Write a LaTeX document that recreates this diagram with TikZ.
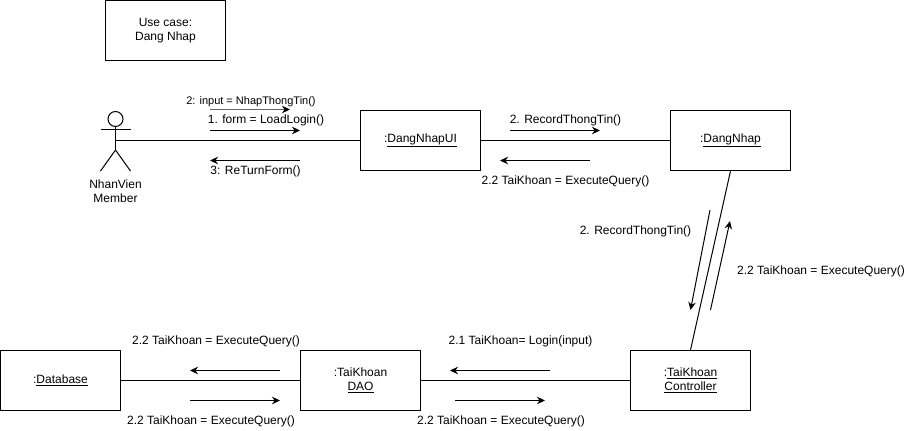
\documentclass[tikz,border=0pt]{standalone}
\usepackage{fontspec}
\setmainfont{Liberation Sans}
\usetikzlibrary{arrows.meta, positioning}
\tikzset{
  every picture/.style={font=\fontsize{12}{14}\selectfont, line width=1pt},
  obj/.style={draw=black, fill=white, align=center, minimum width=120pt, minimum height=60pt, inner sep=0pt, anchor=north west},
  link/.style={draw=black, line width=1pt},
  msg/.style={-{Stealth[length=8pt, width=7.5pt]}, draw=black, line width=1pt},
  lbl/.style={align=center, inner sep=0pt},
}

\begin{document}
\begin{tikzpicture}[x=1pt, y=-1pt]
  \useasboundingbox (0, 0) rectangle (911, 431);
  % objects
  \node[obj] (UC) at (105, 0) {Use case:\\Dang Nhap};
  \node[obj] (UI) at (360, 110) {:\underline{DangNhapUI}};
  \node[obj] (DN) at (670, 110) {:\underline{DangNhap}};
  \node[obj] (TC) at (630, 350) {:\underline{TaiKhoan}\\\underline{Controller}};
  \node[obj] (DAO) at (300, 350) {:TaiKhoan\\\underline{DAO}};
  \node[obj] (DB) at (0, 350) {:\underline{Database}};
  % actor
  \node[draw=black, circle, minimum size=15pt, inner sep=0pt] (head) at (115.5, 119) {};
  \coordinate (hip) at (115.5, 150);
  \coordinate (armL) at (100.5, 129.5);
  \coordinate (armR) at (130.5, 129.5);
  \coordinate (legL) at (100.5, 171);
  \coordinate (legR) at (130.5, 171);
  \coordinate (actor) at (115.5, 140.5);
  \draw[link] (head.south) -- (hip);
  \draw[link] (armL) -- (armR);
  \draw[link] (legL) -- (hip) -- (legR);
  \node[lbl] (nv) at (115.5, 191.5) {NhanVien\\Member};
  % links
  \draw[link] (actor) -- (UI.west);
  \draw[link] (UI.east) -- (DN.west);
  \draw[link] (DN.south) -- (TC.north);
  \draw[link] (TC.west) -- (DAO.east);
  \draw[link] (DAO.west) -- (DB.east);
  % messages, actor side
  \coordinate (m1a) at (210, 109.5); \coordinate (m1b) at (290, 109.5);
  \coordinate (m2a) at (210, 130.5); \coordinate (m2b) at (300, 130.5);
  \coordinate (m3a) at (300, 160.5); \coordinate (m3b) at (210, 160.5);
  \draw[msg, draw=black!60, -{Stealth[length=8pt, width=7.5pt, black]}] (m1a) -- (m1b);
  \draw[msg] (m2a) -- (m2b);
  \draw[msg] (m3a) -- (m3b);
  \node[lbl, font=\fontsize{11}{13}\selectfont] (t1) at (251, 101.5) {2: input = NhapThongTin()};
  \node[lbl] (t2) at (266, 120.5) {1. form = LoadLogin()};
  \node[lbl] (t3) at (255.5, 171.5) {3: ReTurnForm()};
  % messages, UI side
  \coordinate (m4a) at (510, 130.5); \coordinate (m4b) at (600, 130.5);
  \coordinate (m5a) at (590, 160.5); \coordinate (m5b) at (500, 160.5);
  \draw[msg] (m4a) -- (m4b);
  \draw[msg] (m5a) -- (m5b);
  \node[lbl] (t4) at (565.5, 120.5) {2. RecordThongTin()};
  \node[lbl] (t5) at (565.5, 181.5) {2.2 TaiKhoan = ExecuteQuery()};
  % messages, diagonal
  \coordinate (m6a) at (710, 210); \coordinate (m6b) at (690.5, 310);
  \coordinate (m7a) at (710.5, 310); \coordinate (m7b) at (730, 221);
  \draw[msg] (m6a) -- (m6b);
  \draw[msg] (m7a) -- (m7b);
  \node[lbl] (t6) at (635.5, 231.5) {2. RecordThongTin()};
  \node[lbl] (t7) at (821, 271.5) {2.2 TaiKhoan = ExecuteQuery()};
  % messages, bottom row
  \coordinate (m8a) at (550, 370.5); \coordinate (m8b) at (450, 370.5);
  \coordinate (m9a) at (455, 400.5); \coordinate (m9b) at (545, 400.5);
  \coordinate (m10a) at (280, 370.5); \coordinate (m10b) at (190, 370.5);
  \coordinate (m11a) at (190, 400.5); \coordinate (m11b) at (280, 400.5);
  \draw[msg] (m8a) -- (m8b);
  \draw[msg] (m9a) -- (m9b);
  \draw[msg] (m10a) -- (m10b);
  \draw[msg] (m11a) -- (m11b);
  \node[lbl] (t8) at (520.5, 341.5) {2.1 TaiKhoan= Login(input)};
  \node[lbl] (t9) at (501, 421.5) {2.2 TaiKhoan = ExecuteQuery()};
  \node[lbl] (t10) at (216, 341.5) {2.2 TaiKhoan = ExecuteQuery()};
  \node[lbl] (t11) at (211, 421.5) {2.2 TaiKhoan = ExecuteQuery()};
\end{tikzpicture}
\end{document}
